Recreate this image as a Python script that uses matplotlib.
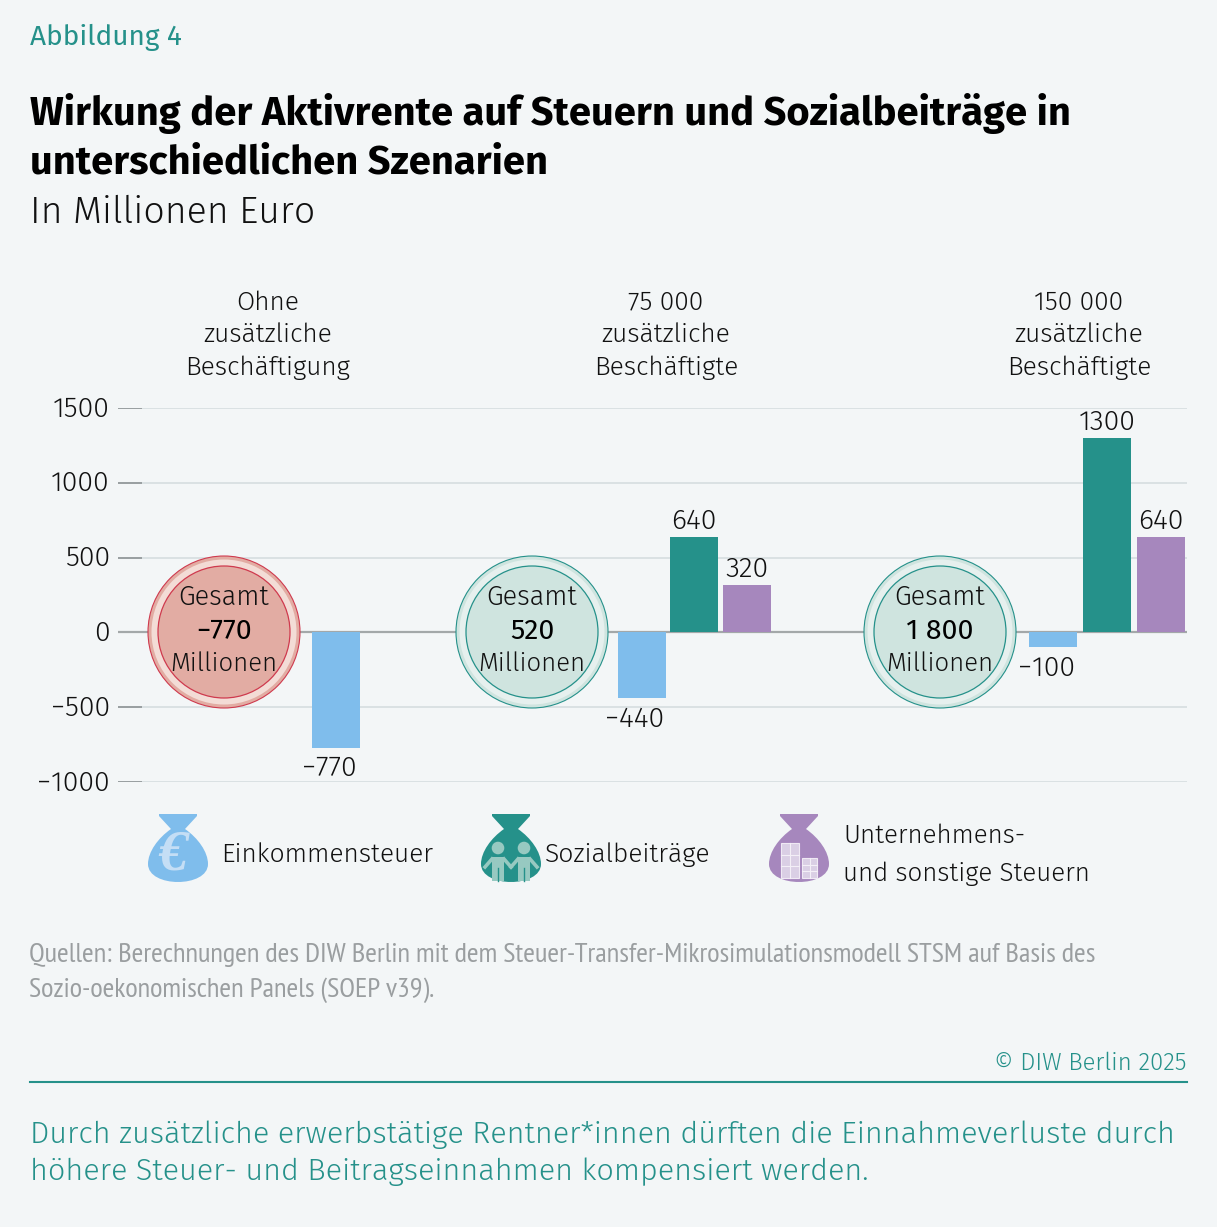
import matplotlib
matplotlib.use('Agg')
import matplotlib.pyplot as plt
from matplotlib.path import Path
from matplotlib.patches import PathPatch, Circle, Rectangle
from matplotlib.transforms import ScaledTranslation

# data
scenarios = ['Ohne\nzusätzliche\nBeschäftigung', '75 000\nzusätzliche\nBeschäftigte', '150 000\nzusätzliche\nBeschäftigte']
einkommen = [-770, -440, -100]
sozial = [None, 640, 1300]
unternehmen = [None, 320, 640]
gesamt = ['−770', '520', '1 800']
yticks = [-1000, -500, 0, 500, 1000, 1500]
ytick_labels = ['−1000', '−500', '0', '500', '1000', '1500']

BG = '#f3f6f7'
BLUE = '#7fbdec'
GREEN = '#25918a'
PURPLE = '#a687bd'
INK = '#111111'
LIGHT = ['Fira Sans', 'Open Sans', 'DejaVu Sans']

plt.rcParams['font.family'] = LIGHT

fig = plt.figure(figsize=(12.17, 12.27), dpi=100, facecolor=BG)

# overlay in pixels for text and icons
bg = fig.add_axes([0, 0, 1, 1], zorder=3)
bg.set_xlim(0, 1217)
bg.set_ylim(1227, 0)
bg.axis('off')
bg.patch.set_alpha(0)

ax = fig.add_axes([118 / 1217, 1 - 782 / 1227, (1187 - 118) / 1217, (782 - 408) / 1227], zorder=2)
ax.patch.set_alpha(0)
ax.set_xlim(118, 1187)
ax.set_ylim(-1000, 1500)
for s in ax.spines.values():
    s.set_visible(False)
ax.set_xticks([])
ax.set_yticks(yticks)
ax.set_yticklabels(ytick_labels, fontsize=20.5, fontweight=300, color=INK)
ax.tick_params(axis='y', length=0, pad=6)
for lbl in ax.get_yticklabels():
    lbl.set_transform(lbl.get_transform() + ScaledTranslation(0, 2 / 100, fig.dpi_scale_trans))
ax.grid(axis='y', color='#d6dde0', lw=1.2, zorder=0)
ax.set_axisbelow(True)
ax.hlines(yticks, 118, 142, color='#8e9496', lw=1.2, zorder=1)
ax.axhline(0, color='#a3a8a9', lw=1.6, zorder=1)

# bars
x_blue = [336, 642, 1053]
x_green = [None, 694, 1107]
x_purple = [None, 747, 1161]
bar_w = 48
for series, xs, col in [(einkommen, x_blue, BLUE), (sozial, x_green, GREEN), (unternehmen, x_purple, PURPLE)]:
    for v, x in zip(series, xs):
        if v is None:
            continue
        ax.bar(x, v, width=bar_w, color=col, zorder=3)
        lab = str(v).replace('-', '−')
        ax.annotate(lab, (x, v), xytext=(-5 if v < 0 else 0, 1.5 if v > 0 else -5.5), textcoords='offset points', ha='center',
                    va='bottom' if v > 0 else 'top', fontsize=20.5, fontweight=300, color=INK)

# scenario heads
for t, x in zip(scenarios, [268, 666, 1079]):
    bg.text(x, 335, t, ha='center', va='center', fontsize=19, fontweight=300, linespacing=1.4, color=INK)


def circle(cx, fill, ring, edge, val):
    cy = 632
    bg.add_patch(Circle((cx, cy), 76, fc=fill, ec=edge, lw=0.8, zorder=5))
    bg.add_patch(Circle((cx, cy), 72.5, fc=ring, ec='none', zorder=5))
    bg.add_patch(Circle((cx, cy), 66, fc=fill, ec=edge, lw=0.9, zorder=6))
    bg.text(cx, 597, 'Gesamt', ha='center', va='center', fontsize=19.5, fontweight=300, zorder=7, color=INK)
    bg.text(cx, 631, val, ha='center', va='center', fontsize=20.5, fontweight=400, zorder=7, color='black')
    bg.text(cx, 664, 'Millionen', ha='center', va='center', fontsize=18.5, fontweight=300, zorder=7, color=INK)


circle(224, '#e2aca3', '#f3dcd6', '#cf3a4e', gesamt[0])
circle(532, '#cfe4df', '#e6f0ee', GREEN, gesamt[1])
circle(940, '#cfe4df', '#e6f0ee', GREEN, gesamt[2])


def bag(cx, col):
    top = 814
    verts = [(cx - 19, top), (cx + 19, top), (cx + 19, top + 2), (cx + 7, top + 15),
             (cx + 20, top + 24), (cx + 30, top + 38), (cx + 30, top + 50),
             (cx + 30, top + 74), (cx - 30, top + 74), (cx - 30, top + 50),
             (cx - 30, top + 38), (cx - 20, top + 24), (cx - 7, top + 15),
             (cx - 19, top + 2), (cx - 19, top), (cx - 19, top)]
    codes = [Path.MOVETO, Path.LINETO, Path.LINETO, Path.LINETO,
             Path.CURVE4, Path.CURVE4, Path.CURVE4,
             Path.CURVE4, Path.CURVE4, Path.CURVE4,
             Path.CURVE4, Path.CURVE4, Path.CURVE4,
             Path.LINETO, Path.LINETO, Path.CLOSEPOLY]
    bg.add_patch(PathPatch(Path(verts, codes), fc=col, ec='none', zorder=4))


bag(178, BLUE)
bag(511, GREEN)
bag(799, PURPLE)
bg.text(173, 856, '€', ha='center', va='center', fontsize=42, family='Liberation Serif', fontweight='bold', color='#c4def5', zorder=5, style='italic')

# people
c = '#97c9c1'
for dx in (-13, 13):
    x = 511 + dx
    bg.add_patch(Circle((x, 848), 6.3, fc=c, ec='none', zorder=5))
    bg.add_patch(Rectangle((x - 6, 857), 12, 24, fc=c, ec='none', zorder=5))
    bg.plot([x - 6, x - 13], [859, 867], color=c, lw=2.6, zorder=5)
    bg.plot([x + 6, x + 13], [859, 867], color=c, lw=2.6, zorder=5)
    bg.plot([x, x], [868, 881], color=GREEN, lw=1, zorder=6)

# buildings
c = '#dacfe5'
for bx, by, bw, bh, nx, ny in [(781, 843, 18, 35, 2, 3), (802, 858, 15, 20, 2, 3)]:
    bg.add_patch(Rectangle((bx, by), bw, bh, fc=c, ec='#efe9f4', lw=0.8, zorder=5))
    for i in range(1, nx):
        bg.plot([bx + bw * i / nx] * 2, [by, by + bh], color='#f3eff7', lw=0.8, zorder=6)
    for i in range(1, ny):
        bg.plot([bx, bx + bw], [by + bh * i / ny] * 2, color='#f3eff7', lw=0.8, zorder=6)

leg_kw = dict(fontweight=300, va='center', color=INK)
bg.text(221, 855, 'Einkommensteuer', fontsize=19, **leg_kw)
bg.text(545, 855, 'Sozialbeiträge', fontsize=19, **leg_kw)
bg.text(843, 836, 'Unternehmens-', fontsize=18.7, **leg_kw)
bg.text(843, 874, 'und sonstige Steuern', fontsize=18.7, **leg_kw)

# header
bg.text(30, 37, 'Abbildung 4', fontsize=20.2, color=GREEN, va='center')
bg.text(30, 113, 'Wirkung der Aktivrente auf Steuern und Sozialbeiträge in', fontsize=28.7, fontweight='bold', color='black', va='center')
bg.text(30, 163, 'unterschiedlichen Szenarien', fontsize=28.7, fontweight='bold', color='black', va='center')
bg.text(30, 213, 'In Millionen Euro', fontsize=27, fontweight=300, color=INK, va='center')

# footer
src_kw = dict(fontsize=20.5, color='#9a9ea0', va='center', family=['PT Sans Narrow', 'DejaVu Sans'])
bg.text(29, 955, 'Quellen: Berechnungen des DIW Berlin mit dem Steuer-Transfer-Mikrosimulationsmodell STSM auf Basis des', **src_kw)
bg.text(29, 990, 'Sozio-oekonomischen Panels (SOEP v39).', **src_kw)
bg.text(1186, 1063, '© DIW Berlin 2025', fontsize=17.3, fontweight=300, color=GREEN, va='center', ha='right')
bg.plot([30, 1187], [1082, 1082], color=GREEN, lw=1.5)
bg.text(30, 1135, 'Durch zusätzliche erwerbstätige Rentner*innen dürften die Einnahmeverluste durch', fontsize=22, fontweight=300, color=GREEN, va='center')
bg.text(30, 1172, 'höhere Steuer- und Beitragseinnahmen kompensiert werden.', fontsize=22, fontweight=300, color=GREEN, va='center')

fig.savefig('out.png', dpi=100, facecolor=BG)
